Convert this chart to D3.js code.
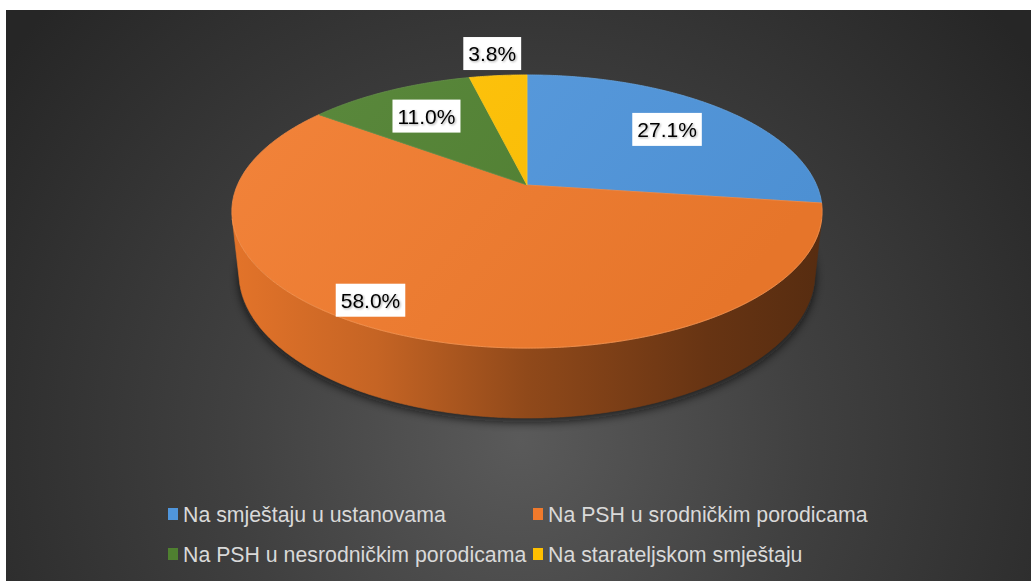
<!DOCTYPE html>
<html>
<head>
<meta charset="utf-8">
<script src="https://cdn.jsdelivr.net/npm/d3@7"></script>
<style>
  html, body { margin: 0; padding: 0; background: #ffffff; }
  svg { display: block; }
</style>
</head>
<body>
<svg id="chart" width="1032" height="581"></svg>
<script>
// ---- data ----
const categories = [
  "Na smještaju u ustanovama",
  "Na PSH u srodničkim porodicama",
  "Na PSH u nesrodničkim porodicama",
  "Na starateljskom smještaju"
];
const values = [27.1, 58.0, 11.0, 3.8];
const valueLabels = ["27.1%", "58.0%", "11.0%", "3.8%"];

// ---- style / layout ----
const sliceColors = ["#5096dc", "#f07a2c", "#4f8030", "#ffc000"];
const labelRadius = [0.70, 0.88, 0.70, 1.25];      // label placement, fraction of radius
const labelAngleShift = [0, 9.5, 0, 0];            // degrees

const W = 1032, H = 581;
const svg = d3.select("#chart");
const defs = svg.append("defs");

// background
const bg = defs.append("radialGradient").attr("id", "bg")
  .attr("gradientUnits", "userSpaceOnUse")
  .attr("cx", 520).attr("cy", 440).attr("r", 640);
bg.append("stop").attr("offset", 0).attr("stop-color", "#5a5a5a");
bg.append("stop").attr("offset", 0.45).attr("stop-color", "#404040");
bg.append("stop").attr("offset", 1).attr("stop-color", "#262626");
svg.append("rect").attr("x", 6).attr("y", 10).attr("width", W - 7).attr("height", H - 10)
  .attr("fill", "url(#bg)");

// ---- perspective projection of a cylinder ----
const cx = 527, cy = 185;
const phi = 27 * Math.PI / 180;
const sP = Math.sin(phi), cP = Math.cos(phi);
const Dist = 4.59, focal = 1329, thick = 0.24;

function proj(theta, r, y) {
  const x = Math.sin(theta) * r, z = -Math.cos(theta) * r;
  const depth = Dist - (y * sP + z * cP);
  return [cx + x * focal / depth, cy - (y * cP - z * sP) * focal / depth];
}
function arcPts(a0, a1, r, y) {
  const n = Math.max(2, Math.ceil(Math.abs(a1 - a0) / (0.5 * Math.PI / 180)));
  return d3.range(n + 1).map(i => proj(a0 + (a1 - a0) * i / n, r, y));
}
const line = d3.line().curve(d3.curveLinear);

const pie = d3.pie().sort(null).value(d => d);
const arcs = pie(values);

// visible side range
const kVis = Math.acos(-1 / (Dist * cP));
const vis0 = kVis, vis1 = 2 * Math.PI - kVis;

// shadow
const shadowF = defs.append("filter").attr("id", "shadow")
  .attr("x", "-20%").attr("y", "-20%").attr("width", "140%").attr("height", "140%");
shadowF.append("feGaussianBlur").attr("stdDeviation", 5);
const bottomRim = arcPts(0, 2 * Math.PI, 1.0, -thick).map(p => [p[0], p[1] + 4]);
svg.append("path").attr("d", line(bottomRim) + "Z")
  .attr("fill", "#0d0d0d").attr("opacity", 0.75).attr("filter", "url(#shadow)");

// side and top gradients
arcs.forEach((a, i) => {
  const base = sliceColors[i];
  const g = defs.append("linearGradient").attr("id", "side" + i)
    .attr("gradientUnits", "userSpaceOnUse")
    .attr("x1", cx - 300).attr("y1", 0).attr("x2", cx + 300).attr("y2", 0);
  g.append("stop").attr("offset", 0).attr("stop-color", d3.interpolateRgb(base, "#000")(0.05));
  g.append("stop").attr("offset", 0.25).attr("stop-color", d3.interpolateRgb(base, "#000")(0.18));
  g.append("stop").attr("offset", 0.5).attr("stop-color", d3.interpolateRgb(base, "#000")(0.40));
  g.append("stop").attr("offset", 0.8).attr("stop-color", d3.interpolateRgb(base, "#000")(0.57));
  g.append("stop").attr("offset", 1).attr("stop-color", d3.interpolateRgb(base, "#000")(0.64));

  const t = defs.append("linearGradient").attr("id", "top" + i)
    .attr("gradientUnits", "userSpaceOnUse")
    .attr("x1", cx - 200).attr("y1", 60).attr("x2", cx + 150).attr("y2", 360);
  t.append("stop").attr("offset", 0).attr("stop-color", d3.interpolateRgb(base, "#fff")(0.06));
  t.append("stop").attr("offset", 1).attr("stop-color", d3.interpolateRgb(base, "#000")(0.04));
});

// sides
const sideG = svg.append("g");
arcs.forEach((a, i) => {
  const a0 = Math.max(a.startAngle, vis0), a1 = Math.min(a.endAngle, vis1);
  if (a1 <= a0) return;
  const pts = arcPts(a0, a1, 1, 0).concat(arcPts(a1, a0, 1, -thick));
  sideG.append("path").attr("d", line(pts) + "Z")
    .attr("fill", `url(#side${i})`)
    .attr("stroke", `url(#side${i})`).attr("stroke-width", 0.6);
});

// top faces
const topG = svg.append("g");
arcs.forEach((a, i) => {
  const pts = [proj(0, 0, 0)].concat(arcPts(a.startAngle, a.endAngle, 1, 0));
  topG.append("path").attr("d", line(pts) + "Z")
    .attr("fill", `url(#top${i})`)
    .attr("stroke", d3.interpolateRgb(sliceColors[i], "#fff")(0.12))
    .attr("stroke-width", 0.8).attr("stroke-linejoin", "round");
});
// rim highlight along the front edge
svg.append("path").attr("d", line(arcPts(vis0, vis1, 1, 0)))
  .attr("fill", "none").attr("stroke", "#f6a060").attr("stroke-opacity", 0.35).attr("stroke-width", 1);

// data labels
const lblF = defs.append("filter").attr("id", "txtShadow")
  .attr("x", "-10%").attr("y", "-20%").attr("width", "130%").attr("height", "150%");
lblF.append("feDropShadow").attr("dx", 1).attr("dy", 1).attr("stdDeviation", 0.8)
  .attr("flood-color", "#000").attr("flood-opacity", 0.35);

const labG = svg.append("g");
arcs.forEach((a, i) => {
  const mid = (a.startAngle + a.endAngle) / 2 + labelAngleShift[i] * Math.PI / 180;
  const [lx, ly] = proj(mid, labelRadius[i], 0);
  const g = labG.append("g").attr("transform", `translate(${lx},${ly})`);
  const rect = g.append("rect").attr("fill", "#ffffff");
  const txt = g.append("text")
    .attr("text-anchor", "middle").attr("dy", "0.36em")
    .attr("font-family", "'Liberation Sans', Arial, sans-serif")
    .attr("font-size", 21).attr("fill", "#000")
    .attr("filter", "url(#txtShadow)")
    .text(valueLabels[i]);
  const bb = txt.node().getBBox();
  const padX = 5;
  rect.attr("x", -bb.width / 2 - padX).attr("y", -16.5)
    .attr("width", bb.width + 2 * padX).attr("height", 33);
});

// legend
const legendCols = [168, 533];
const legendRows = [514, 554];
const legG = svg.append("g");
categories.forEach((c, i) => {
  const x = legendCols[i % 2], y = legendRows[Math.floor(i / 2)];
  const g = legG.append("g").attr("transform", `translate(${x},${y})`);
  g.append("rect").attr("x", 0).attr("y", -6).attr("width", 10).attr("height", 12)
    .attr("fill", sliceColors[i]);
  g.append("text").attr("x", 15).attr("dy", "0.36em")
    .attr("font-family", "'Liberation Sans', Arial, sans-serif")
    .attr("font-size", 21.3).attr("fill", "#d9d9d9")
    .text(c);
});
</script>
</body>
</html>
